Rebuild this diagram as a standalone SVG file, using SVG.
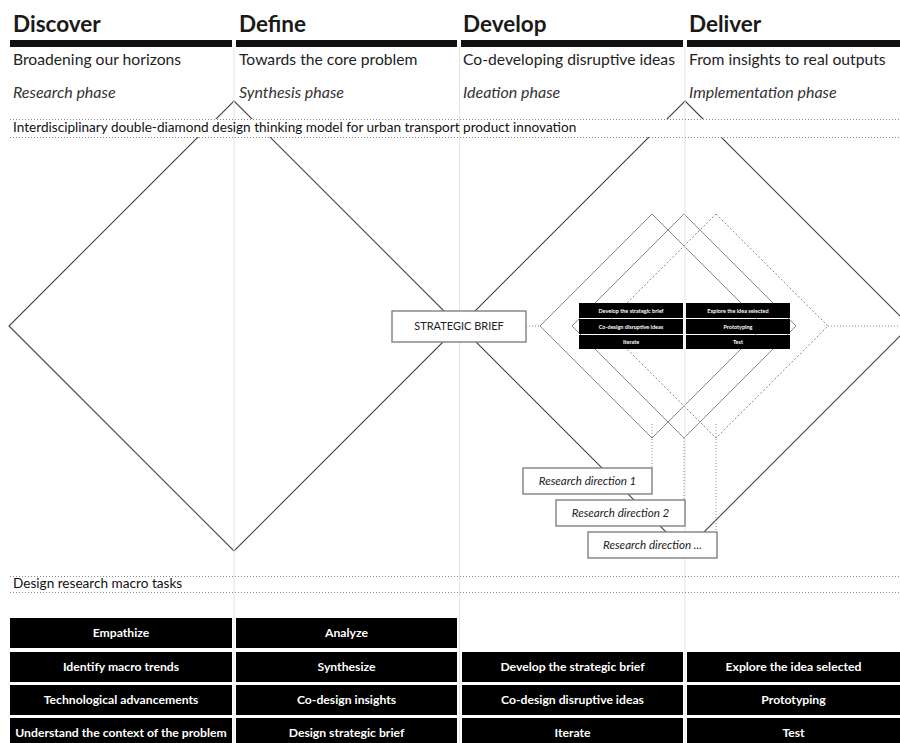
<svg xmlns="http://www.w3.org/2000/svg" width="900" height="743" viewBox="0 0 900 743">
<style>
.h{font-family:Lato,"Liberation Sans",sans-serif;font-weight:bold;font-size:22.5px;fill:#1a1a1a}
.s{font-family:Lato,"Liberation Sans",sans-serif;font-size:15.7px;fill:#222}
.i{font-family:Lato,"Liberation Sans",sans-serif;font-style:italic;font-size:16px;fill:#333}
.t{font-family:Lato,"Liberation Sans",sans-serif;font-size:13.6px;fill:#111}
.bar{fill:#111}
.col{stroke:#e4e4e4;stroke-width:1}
.dot{stroke:#888;stroke-width:1;stroke-dasharray:1 2;fill:none}
.dia{stroke:#444;stroke-width:1.1;fill:none}
.in{stroke:#888;stroke-width:1;fill:none}
.ind{stroke:#888;stroke-width:1;stroke-dasharray:2 2;fill:none}
.cell{fill:#000}
.ct{font-family:Lato,"Liberation Sans",sans-serif;font-weight:bold;font-size:12.2px;fill:#fff;text-anchor:middle}
.sc{font-family:Lato,"Liberation Sans",sans-serif;font-weight:bold;font-size:5.5px;fill:#fff;text-anchor:middle}
.box{fill:#fff;stroke:#777;stroke-width:1.3}
.bt{font-family:Lato,"Liberation Sans",sans-serif;font-size:11px;fill:#222;text-anchor:middle}
.rt{font-family:Lato,"Liberation Sans",sans-serif;font-style:italic;font-size:11.6px;fill:#222;text-anchor:middle}
</style>
<rect width="900" height="743" fill="#fff"/>
<g id="connectors">
<path class="dia" d="M234,101 L459,326 L234,551 L9,326 Z"/>
<path class="dia" d="M685,101 L910,326 L685,551 L460,326 Z"/>
<path class="in" d="M652,214 L764,326 L652,438 L540,326 Z"/>
<path class="in" d="M684,214 L796,326 L684,438 L572,326 Z"/>
<path class="ind" d="M716,214 L828,326 L716,438 L604,326 Z"/>
<rect x="0" y="119" width="900" height="18" fill="#fff"/>
<line class="col" x1="234" y1="47" x2="234" y2="743"/>
<line class="col" x1="459.5" y1="47" x2="459.5" y2="743"/>
<line class="col" x1="685" y1="47" x2="685" y2="743"/>
<path class="dot" d="M526,326 H540 M828,326 H900 M652,424 V468 M684,438 V500 M716,424 V532"/>
</g>
<g id="header">
<rect class="bar" x="10" y="40" width="222" height="7"/>
<rect class="bar" x="236" y="40" width="221" height="7"/>
<rect class="bar" x="461" y="40" width="222" height="7"/>
<rect class="bar" x="687" y="40" width="213" height="7"/>
<text class="h" x="13" y="32">Discover</text>
<text class="h" x="239" y="32">Define</text>
<text class="h" x="463" y="32">Develop</text>
<text class="h" x="689" y="32">Deliver</text>
<text class="s" x="13" y="65">Broadening our horizons</text>
<text class="s" x="239" y="65">Towards the core problem</text>
<text class="s" x="463" y="65">Co-developing disruptive ideas</text>
<text class="s" x="689" y="65">From insights to real outputs</text>
<text class="i" x="13" y="98">Research phase</text>
<text class="i" x="239" y="98">Synthesis phase</text>
<text class="i" x="463" y="98">Ideation phase</text>
<text class="i" x="689" y="98">Implementation phase</text>
</g>
<g id="title">
<line class="dot" x1="10" y1="119.5" x2="900" y2="119.5"/>
<line class="dot" x1="10" y1="137.5" x2="900" y2="137.5"/>
<text class="t" x="13" y="132">Interdisciplinary double-diamond design thinking model for urban transport product innovation</text>
</g>
<g id="strategic-brief">
<rect class="box" x="392" y="311" width="134" height="31" stroke="#666" stroke-width="1.5"/>
<text class="bt" x="459" y="330">STRATEGIC BRIEF</text>
</g>
<g id="inner-tasks">
<rect class="cell" x="579" y="303" width="104" height="15"/>
<rect class="cell" x="686" y="303" width="104" height="15"/>
<rect class="cell" x="579" y="319" width="104" height="15"/>
<rect class="cell" x="686" y="319" width="104" height="15"/>
<rect class="cell" x="579" y="335" width="104" height="14"/>
<rect class="cell" x="686" y="335" width="104" height="14"/>
<text class="sc" x="631" y="312.5">Develop the strategic brief</text>
<text class="sc" x="738" y="312.5">Explore the idea selected</text>
<text class="sc" x="631" y="328.5">Co-design disruptive ideas</text>
<text class="sc" x="738" y="328.5">Prototyping</text>
<text class="sc" x="631" y="344">Iterate</text>
<text class="sc" x="738" y="344">Test</text>
</g>
<g id="research-direction-1">
<rect class="box" x="523" y="468" width="129" height="26"/>
<text class="rt" x="587.5" y="485">Research direction 1</text>
</g>
<g id="research-direction-2">
<rect class="box" x="556" y="500" width="129" height="26"/>
<text class="rt" x="620.5" y="517">Research direction 2</text>
</g>
<g id="research-direction-3">
<rect class="box" x="588" y="532" width="129" height="26"/>
<text class="rt" x="652.5" y="549">Research direction ...</text>
</g>
<g id="macro-tasks-title">
<line class="dot" x1="10" y1="576.5" x2="900" y2="576.5"/>
<line class="dot" x1="10" y1="592.5" x2="900" y2="592.5"/>
<text class="t" x="13" y="588">Design research macro tasks</text>
</g>
<g id="macro-tasks">
<rect class="cell" x="10" y="618" width="222" height="30"/>
<rect class="cell" x="10" y="652" width="222" height="30"/>
<rect class="cell" x="10" y="685" width="222" height="30"/>
<rect class="cell" x="10" y="718" width="222" height="30"/>
<rect class="cell" x="236" y="618" width="221" height="30"/>
<rect class="cell" x="236" y="652" width="221" height="30"/>
<rect class="cell" x="236" y="685" width="221" height="30"/>
<rect class="cell" x="236" y="718" width="221" height="30"/>
<rect class="cell" x="462" y="652" width="221" height="30"/>
<rect class="cell" x="462" y="685" width="221" height="30"/>
<rect class="cell" x="462" y="718" width="221" height="30"/>
<rect class="cell" x="687" y="652" width="213" height="30"/>
<rect class="cell" x="687" y="685" width="213" height="30"/>
<rect class="cell" x="687" y="718" width="213" height="30"/>
<text class="ct" x="121" y="637">Empathize</text>
<text class="ct" x="121" y="671">Identify macro trends</text>
<text class="ct" x="121" y="704">Technological advancements</text>
<text class="ct" x="121" y="737">Understand the context of the problem</text>
<text class="ct" x="346.5" y="637">Analyze</text>
<text class="ct" x="346.5" y="671">Synthesize</text>
<text class="ct" x="346.5" y="704">Co-design insights</text>
<text class="ct" x="346.5" y="737">Design strategic brief</text>
<text class="ct" x="572.5" y="671">Develop the strategic brief</text>
<text class="ct" x="572.5" y="704">Co-design disruptive ideas</text>
<text class="ct" x="572.5" y="737">Iterate</text>
<text class="ct" x="793.5" y="671">Explore the idea selected</text>
<text class="ct" x="793.5" y="704">Prototyping</text>
<text class="ct" x="793.5" y="737">Test</text>
</g>
</svg>
